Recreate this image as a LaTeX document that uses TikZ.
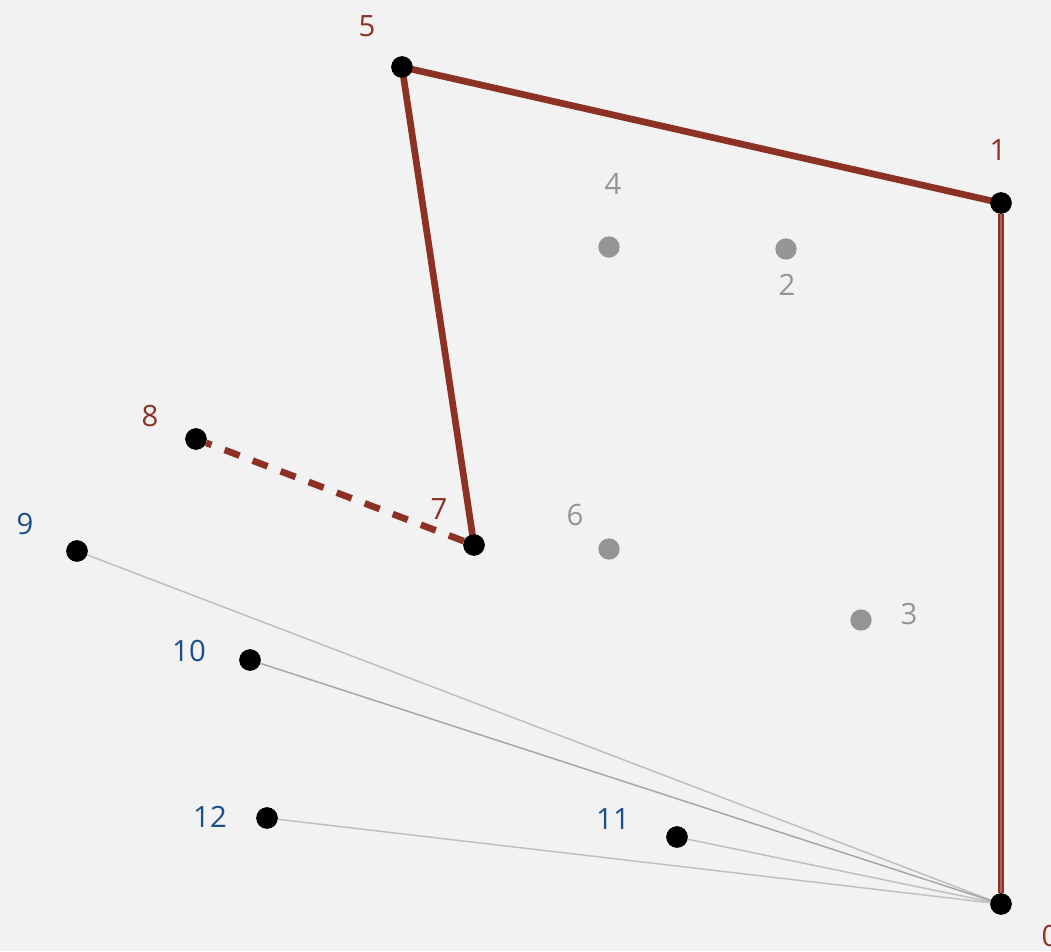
\documentclass[tikz,border=0pt]{standalone}
\usepackage{fontspec}
\setmainfont{Open Sans}
\definecolor{hullred}{HTML}{8C3123}
\definecolor{ptgray}{HTML}{959595}
\definecolor{lblblue}{HTML}{1B4F8A}
\definecolor{bggray}{HTML}{F2F2F2}
\tikzset{
  pt/.style={circle, fill=black, inner sep=0pt, minimum size=16pt},
  gpt/.style={circle, fill=ptgray, inner sep=0pt, minimum size=16pt},
  lbl/.style={font=\fontsize{22}{25}\selectfont, inner sep=0pt}
}
\begin{document}
\begin{tikzpicture}[x=0.75pt, y=-0.75pt]

% Background
\fill[bggray] (0,0) rectangle (1051,951);
\useasboundingbox (0,0) rectangle (1051,951);

% Points on the hull / being tested
\node[pt] (p0) at (1001,904) {};
\node[pt] (p1) at (1001,203) {};
\node[pt] (p5) at (402,67) {};
\node[pt] (p7) at (474,545) {};
\node[pt] (p8) at (196,439) {};
\node[pt] (p9) at (77,551) {};
\node[pt] (p10) at (250,660) {};
\node[pt] (p11) at (677,837) {};
\node[pt] (p12) at (267,818) {};

% Discarded points
\node[gpt] (p2) at (786,249) {};
\node[gpt] (p3) at (861,620) {};
\node[gpt] (p4) at (609,247) {};
\node[gpt] (p6) at (609,549) {};

% Rays from 0 to the remaining points
\foreach \q in {p9, p11, p12} {
  \draw[line width=1.1pt, black!25] (p0.center) -- (\q);
}
\draw[line width=1.1pt, black!35] (p0.center) -- (p10);

% Hull so far
\draw[line width=5pt, hullred] (p0) -- (p1);
\draw[line width=1.2pt, hullred!75!white] (p0) -- (p1);
\draw[line width=5pt, hullred] (p1.center) -- (p5.center) -- (p7.center);
\draw[line width=5pt, hullred, dash pattern=on 12pt off 10.5pt] (p7) -- (p8);

% Redraw dots on top
\foreach \p in {p0, p1, p5, p7, p8, p9, p10, p11, p12} {
  \fill[black] (\p.center) circle (8pt);
}

% Labels
\node[lbl, hullred] (l0) at (1050,936) {0};
\node[lbl, hullred] (l1) at (998,150) {1};
\node[lbl, hullred] (l5) at (367,26) {5};
\node[lbl, hullred] (l7) at (439,509) {7};
\node[lbl, hullred] (l8) at (150,416) {8};
\node[lbl, ptgray] (l2) at (787,285) {2};
\node[lbl, ptgray] (l3) at (909,614) {3};
\node[lbl, ptgray] (l4) at (613,184) {4};
\node[lbl, ptgray] (l6) at (575,515) {6};
\node[lbl, lblblue] (l9) at (25,524) {9};
\node[lbl, lblblue] (l10) at (189,651) {10};
\node[lbl, lblblue] (l11) at (613,819) {11};
\node[lbl, lblblue] (l12) at (210,817) {12};

\end{tikzpicture}
\end{document}
